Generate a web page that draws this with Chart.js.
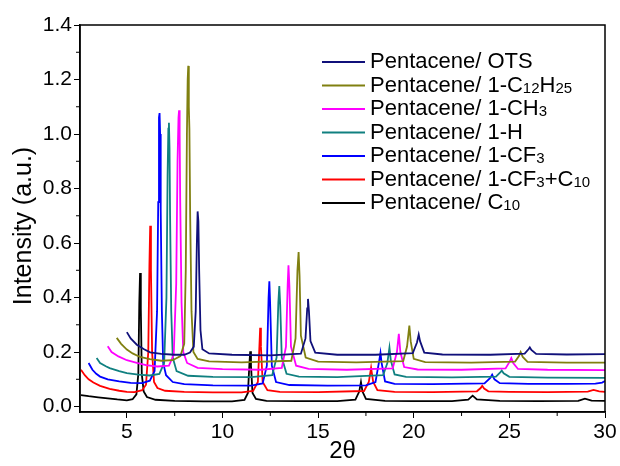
<!DOCTYPE html>
<html>
<head>
<meta charset="utf-8">
<script src="https://cdn.jsdelivr.net/npm/chart.js@4.4.0/dist/chart.umd.min.js"></script>
<style>
  html, body { margin: 0; padding: 0; background: #fff; }
</style>
</head>
<body>
<canvas id="xrd" width="620" height="466"></canvas>
<script>
// legend labels, "_12" marks a subscript
const labels = ['Pentacene/ OTS', 'Pentacene/ 1-C_12H_25', 'Pentacene/ 1-CH_3', 'Pentacene/ 1-H',
  'Pentacene/ 1-CF_3', 'Pentacene/ 1-CF_3+C_10', 'Pentacene/ C_10']
const colors = ['#10107a', '#808010', '#ff00ff', '#108080', '#0000ff', '#ff0000', '#000000']
const yTitle = 'Intensity (a.u.)'
const xTitle = '2θ'

const yTicks = [0, 0.2, 0.4, 0.6, 0.8, 1.0, 1.2, 1.4]
const yMinor = [0.1, 0.3, 0.5, 0.7, 0.9, 1.1, 1.3]
const xTicks = [5, 10, 15, 20, 25, 30]
const xMinor = [7.5, 12.5, 17.5, 22.5, 27.5]

// [2theta, intensity]
const ots = [[5.0,.273],[5.2,.25],[5.52,.227],[5.9,.21],[6.22,.199],[6.8,.193],[7.5,.19],[8.0,.19],[8.3,.198],[8.5,.22],
  [8.6,.35],[8.66,.6],[8.7,.716],[8.74,.68],[8.78,.5],[8.85,.28],[8.95,.21],[9.3,.195],[10.5,.19],[12.5,.188],
  [14.1,.194],[14.34,.25],[14.43,.36],[14.47,.395],[14.52,.35],[14.6,.24],[14.85,.198],[16,.19],[18,.19],
  [19.95,.196],[20.17,.235],[20.26,.264],[20.33,.24],[20.55,.198],[21.5,.191],[24,.19],[25.8,.194],[26.0,.21],
  [26.07,.217],[26.15,.208],[26.4,.193],[28,.191],[30,.192]]
const c12h25 = [[4.47,.252],[4.7,.23],[5.0,.209],[5.3,.195],[5.69,.182],[6.2,.174],[6.8,.168],[7.4,.17],[7.8,.185],
  [8.0,.23],[8.08,.5],[8.14,1.0],[8.18,1.2],[8.21,1.25],[8.24,1.1],[8.27,1.02],[8.31,.7],[8.38,.35],[8.48,.2],
  [8.7,.175],[9.3,.166],[11,.162],[13.6,.168],[13.82,.25],[13.92,.5],[13.98,.567],[14.03,.48],[14.1,.26],
  [14.35,.18],[15,.165],[17,.162],[19.45,.167],[19.65,.22],[19.77,.297],[19.84,.24],[20.0,.175],[20.6,.163],
  [23,.161],[25.3,.165],[25.5,.185],[25.59,.2],[25.7,.182],[25.95,.164],[28,.161],[30,.161]]
const ch3 = [[4.0,.221],[4.2,.2],[4.56,.184],[5.0,.17],[5.52,.16],[6.0,.152],[6.6,.147],[7.2,.15],[7.45,.19],
  [7.58,.45],[7.65,.9],[7.7,1.06],[7.73,1.087],[7.76,1.0],[7.79,.75],[7.86,.38],[7.95,.2],[8.15,.16],[8.7,.142],
  [10,.137],[12,.135],[13.1,.142],[13.32,.22],[13.41,.45],[13.45,.518],[13.5,.44],[13.58,.22],[13.85,.15],
  [14.5,.138],[16.5,.135],[18.9,.14],[19.12,.2],[19.22,.267],[19.3,.2],[19.5,.145],[20.2,.136],[22.5,.135],
  [24.8,.14],[25.0,.163],[25.1,.178],[25.2,.16],[25.45,.138],[27,.135],[30,.134]]
const h1 = [[3.42,.178],[3.6,.16],[3.9,.148],[4.1,.141],[4.6,.13],[5.0,.123],[5.6,.117],[6.2,.114],[6.7,.12],
  [6.95,.16],[7.07,.4],[7.13,.85],[7.17,1.02],[7.2,1.041],[7.23,.95],[7.26,.7],[7.32,.35],[7.4,.18],[7.6,.13],
  [8.2,.113],[9.5,.109],[11.5,.108],[12.6,.115],[12.83,.18],[12.92,.38],[12.97,.442],[13.02,.37],[13.1,.18],
  [13.35,.12],[14,.11],[16,.108],[18.4,.115],[18.62,.16],[18.73,.216],[18.8,.17],[19.0,.118],[19.6,.109],
  [22,.107],[24.3,.11],[24.52,.125],[24.6,.132],[24.7,.122],[25.0,.109],[27,.106],[30,.105]]
const cf3 = [[3.0,.16],[3.2,.135],[3.4,.12],[3.6,.11],[4.0,.1],[4.6,.092],[5.2,.087],[5.8,.086],[6.2,.095],
  [6.45,.13],[6.58,.35],[6.64,.75],[6.68,1.06],[6.71,1.077],[6.74,1.0],[6.77,.72],[6.83,.35],[6.9,.16],
  [7.05,.115],[7.4,.09],[8.0,.082],[9.5,.078],[11.5,.077],[12.1,.085],[12.32,.15],[12.41,.4],[12.45,.46],
  [12.49,.38],[12.58,.15],[12.8,.09],[13.5,.079],[15.5,.077],[17.5,.078],[18.0,.09],[18.2,.17],[18.26,.197],
  [18.32,.16],[18.5,.092],[19,.083],[21,.082],[23.7,.085],[24.0,.105],[24.1,.117],[24.22,.1],[24.5,.086],
  [26,.083],[28,.083],[29.5,.084],[29.85,.088],[30,.094]]
const cf3c10 = [[2.6,.135],[2.8,.115],[3.0,.1],[3.25,.088],[3.6,.076],[4.1,.065],[4.6,.058],[5.0,.054],[5.4,.053],
  [5.8,.06],[6.0,.08],[6.12,.2],[6.18,.52],[6.22,.663],[6.26,.5],[6.32,.2],[6.42,.09],[6.6,.068],[7.0,.058],
  [8,.054],[9.5,.052],[11,.052],[11.6,.057],[11.85,.09],[11.93,.22],[11.97,.289],[12.01,.22],[12.1,.09],
  [12.35,.06],[13,.054],[15,.053],[17.4,.057],[17.65,.09],[17.77,.142],[17.88,.09],[18.1,.06],[19,.054],
  [21,.053],[23.3,.056],[23.5,.068],[23.58,.076],[23.68,.066],[23.9,.056],[25,.054],[27,.053],[29.1,.055],
  [29.4,.061],[29.7,.056],[30,.054]]
const c10 = [[2.6,.042],[3.0,.038],[3.5,.034],[4.0,.030],[4.5,.026],[5.0,.023],[5.3,.027],[5.5,.045],[5.6,.12],
  [5.65,.38],[5.69,.49],[5.73,.36],[5.78,.12],[5.88,.055],[6.05,.035],[6.5,.025],[7.5,.021],[9.0,.019],
  [10.5,.019],[11.15,.024],[11.33,.05],[11.41,.16],[11.45,.203],[11.49,.15],[11.57,.05],[11.75,.028],[12.3,.021],
  [14,.02],[16,.02],[16.95,.025],[17.15,.055],[17.24,.09],[17.32,.055],[17.5,.028],[18.5,.021],[20,.02],[22,.02],
  [22.85,.025],[23.08,.04],[23.3,.026],[24.5,.021],[26.5,.02],[28.6,.021],[28.95,.029],[29.3,.022],[30,.021]]

const series = [ots, c12h25, ch3, h1, cf3, cf3c10, c10]
const FONT = "'Liberation Sans', Arial, sans-serif"

const frame = {
  id: 'frame',
  afterDraw(chart) {
    const {ctx, chartArea: a, scales} = chart
    ctx.save()
    ctx.strokeStyle = '#000'
    ctx.lineWidth = 1.5
    ctx.strokeRect(a.left, a.top, a.right - a.left, a.bottom - a.top)
    // minor ticks
    ctx.lineWidth = 1
    ctx.beginPath()
    yMinor.forEach(v => {
      const y = scales.y.getPixelForValue(v)
      ctx.moveTo(a.left - 4, y); ctx.lineTo(a.left, y)
    })
    xMinor.forEach(v => {
      const x = scales.x.getPixelForValue(v)
      ctx.moveTo(x, a.bottom); ctx.lineTo(x, a.bottom + 4)
    })
    ctx.stroke()

    // y title, sits a little below the axis centre in the original
    ctx.save()
    ctx.translate(24, 226)
    ctx.rotate(-Math.PI / 2)
    ctx.font = '25px ' + FONT
    ctx.fillStyle = '#000'
    ctx.textAlign = 'center'
    ctx.textBaseline = 'middle'
    ctx.fillText(yTitle, 0, 0)
    ctx.restore()

    // legend with subscripts
    labels.forEach((lab, i) => {
      const y = 62 + i * 23.5
      ctx.strokeStyle = colors[i]
      ctx.lineWidth = 2
      ctx.beginPath(); ctx.moveTo(322, y); ctx.lineTo(365, y); ctx.stroke()
      ctx.fillStyle = '#000'
      ctx.textBaseline = 'middle'
      let x = 370
      lab.split(/_(\d+)/).forEach((part, k) => {
        const sub = k % 2 === 1
        ctx.font = (sub ? '15px ' : '22px ') + FONT
        ctx.fillText(part, x, sub ? y + 3 : y)
        x += ctx.measureText(part).width
      })
    })
    ctx.restore()
  }
}

new Chart(document.getElementById('xrd'), {
  type: 'scatter',
  data: {
    datasets: series.map((pts, i) => ({
      label: labels[i].replace(/_/g, ''),
      data: pts.map(p => ({x: p[0], y: p[1]})),
      showLine: true,
      borderColor: colors[i],
      borderWidth: 1.8,
      pointRadius: 0,
      tension: 0
    }))
  },
  options: {
    responsive: false,
    animation: false,
    layout: {padding: {top: 25, right: 15, left: 0, bottom: 0}},
    plugins: {legend: {display: false}, tooltip: {enabled: false}},
    scales: {
      x: {
        type: 'linear', min: 2.55, max: 30,
        afterFit: s => { s.height = 54 },
        afterBuildTicks: s => { s.ticks = xTicks.map(v => ({value: v})) },
        ticks: {color: '#000', font: {family: FONT, size: 21}, padding: 2},
        grid: {drawOnChartArea: false, tickLength: 6, tickColor: '#000', tickWidth: 1},
        border: {color: '#000', width: 1.5},
        title: {display: true, text: xTitle, color: '#000', font: {family: FONT, size: 24}, padding: 0}
      },
      y: {
        min: -0.02, max: 1.4,
        afterFit: s => { s.width = 80 },
        afterBuildTicks: s => { s.ticks = yTicks.map(v => ({value: v})) },
        ticks: {color: '#000', font: {family: FONT, size: 21}, padding: 2,
          callback: v => v.toFixed(1)},
        grid: {drawOnChartArea: false, tickLength: 6, tickColor: '#000', tickWidth: 1},
        border: {color: '#000', width: 1.5}
      }
    }
  },
  plugins: [frame]
})
</script>
</body>
</html>
